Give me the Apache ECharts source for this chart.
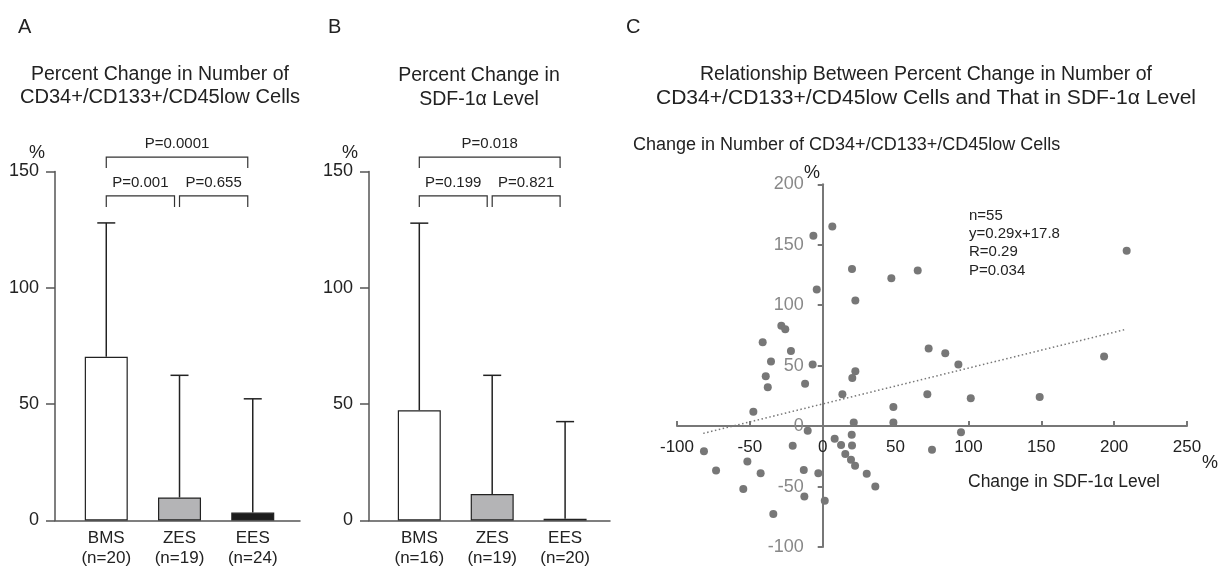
<!DOCTYPE html>
<html>
<head>
<meta charset="utf-8">
<script src="https://cdn.jsdelivr.net/npm/echarts@6/dist/echarts.min.js"></script>
<style>html,body{margin:0;padding:0;background:#fff}#c{width:1218px;height:568px}</style>
</head>
<body>
<div id="c"></div>
<script>
// ---- data ----
const categories = ['BMS', 'ZES', 'EES'];
const nLabelsA = ['(n=20)', '(n=19)', '(n=24)'];
const nLabelsB = ['(n=16)', '(n=19)', '(n=20)'];
const meanA = [70.4, 9.9, 3.4];
const sdA = [57.5, 52.5, 48.9];
const meanB = [47.4, 11.4, 0.8];
const sdB = [80.4, 51.0, 41.7];
const pairs = [[0, 1], [1, 2], [0, 2]];
const pValuesA = ['P=0.001', 'P=0.655', 'P=0.0001'];
const pValuesB = ['P=0.199', 'P=0.821', 'P=0.018'];
const barColors = ['#ffffff', '#b4b4b6', '#1c1c1c'];
const barTicks = [0, 50, 100, 150];
const scatterX = [-6.4, 6.6, 20.1, -4.1, 22.4, 47.1, 65.2, -28.4, -25.7, -41.2, -21.8, -35.5, -6.9, -39.1, -37.7, -12.1, 22.4, 20.3, 13.5, -47.6, 48.5, 21.3, 48.5, -10.3, 19.9, 8.2, -81.5, -20.6, 12.6, 20.1, 15.5, -51.7, 19.4, 22.2, -73.2, -13, -42.6, -3, 30.2, 36.1, -54.5, -12.6, 1.4, -33.9, 72.7, 84.1, 93.1, 193.1, 71.8, 101.6, 148.9, 94.9, 75, 208.6];
const scatterY = [157.5, 165, 130, 112.9, 103.8, 122.3, 128.6, 83.1, 80.2, 69.4, 62.2, 53.4, 50.9, 41.3, 32.2, 35, 45.4, 39.7, 26.4, 11.8, 15.7, 3, 3, -3.9, -7.2, -10.5, -20.7, -16.3, -15.7, -16, -23.1, -29.2, -27.9, -32.8, -36.7, -36.4, -39.1, -39.1, -39.4, -49.9, -52.1, -58.2, -61.7, -72.7, 64.1, 60.3, 50.9, 57.5, 26.4, 23.1, 24, -5, -19.6, 145.1];
const trendX = [-82, 208];
const trendY = [-6, 80];
const scatterXTicks = [-100, -50, 0, 50, 100, 150, 200, 250];
const scatterYTicks = [-100, -50, 0, 50, 100, 150, 200];
const statsText = ['n=55', 'y=0.29x+17.8', 'R=0.29', 'P=0.034'];

// ---- chart ----
const FF = '"Liberation Sans", Arial, sans-serif';
const chart = echarts.init(document.getElementById('c'));

function txt(text, x, y, size, align, color, sx) {
  return { type: 'text', x: x, y: y, scaleX: sx || 1, silent: true,
    style: { text: text, font: size + 'px ' + FF, fill: color || '#222', align: align || 'center', verticalAlign: 'middle' } };
}

function barXAxis(gi, min, max, nLabels) {
  return {
    type: 'value', gridIndex: gi, min: min, max: max,
    axisLine: { show: true, onZero: false, lineStyle: { color: '#555', width: 1.5 } },
    axisTick: { show: false },
    splitLine: { show: false },
    axisLabel: {
      show: true, customValues: [1, 2, 3], margin: 8,
      fontFamily: FF, fontSize: 17, color: '#222', lineHeight: 20,
      formatter: v => categories[Math.round(v) - 1] + '\n' + nLabels[Math.round(v) - 1]
    }
  };
}
function barYAxis(gi) {
  return {
    type: 'value', gridIndex: gi, min: barTicks[0], max: barTicks[barTicks.length - 1], interval: 50,
    axisLine: { show: true, onZero: false, lineStyle: { color: '#555', width: 1.5 } },
    axisTick: { show: true, inside: false, length: 9, lineStyle: { color: '#555', width: 1.5 } },
    splitLine: { show: false },
    axisLabel: { margin: 16, fontFamily: FF, fontSize: 18, color: '#222', showMinLabel: true, showMaxLabel: true }
  };
}
function barSeries(idx, means) {
  return {
    type: 'bar', xAxisIndex: idx, yAxisIndex: idx, barWidth: 43, z: 3,
    data: means.map((m, i) => ({ value: [i + 1, m], itemStyle: { color: barColors[i] } })),
    itemStyle: { borderColor: '#222', borderWidth: 1.2 },
    emphasis: { disabled: true }, silent: true
  };
}
function errSeries(idx, means, sds) {
  return {
    type: 'custom', xAxisIndex: idx, yAxisIndex: idx, z: 2, clip: false, silent: true,
    data: means.map((m, i) => [i + 1, m, m + sds[i]]),
    renderItem: (params, api) => {
      const a = api.coord([api.value(0), api.value(1)]);
      const b = api.coord([api.value(0), api.value(2)]);
      const st = { stroke: '#222', lineWidth: 1.5 };
      return { type: 'group', children: [
        { type: 'line', shape: { x1: a[0], y1: a[1], x2: b[0], y2: b[1] }, style: st },
        { type: 'line', shape: { x1: b[0] - 9, y1: b[1], x2: b[0] + 9, y2: b[1] }, style: st }
      ] };
    }
  };
}
function bracketSeries(idx, labels) {
  return {
    type: 'custom', xAxisIndex: idx, yAxisIndex: idx, z: 4, clip: false, silent: true,
    data: pairs.map((p, k) => [p[0] + 1, p[1] + 1, k]),
    renderItem: (params, api) => {
      const k = api.value(2);
      const outer = (api.value(1) - api.value(0)) > 1;
      const level = outer ? 156.2 : 139.5;
      const L = api.coord([api.value(0), level]);
      const R = api.coord([api.value(1), level]);
      const x1 = L[0], x2 = R[0] - 5, y = L[1];
      const st = { stroke: '#333', lineWidth: 1.2, fill: null };
      return { type: 'group', children: [
        { type: 'polyline', shape: { points: [[x1, y + 11], [x1, y], [x2, y], [x2, y + 11]] }, style: st },
        { type: 'text', x: (x1 + x2) / 2, y: y - 13,
          style: { text: labels[k], font: '15px ' + FF, fill: '#222', align: 'center', verticalAlign: 'middle' } }
      ] };
    }
  };
}

// scatter grid geometry
const gC = { left: 677, top: 184.3, width: 510, height: 362.7 };
const xMinC = scatterXTicks[0], xMaxC = scatterXTicks[scatterXTicks.length - 1];
const yMinC = scatterYTicks[0], yMaxC = scatterYTicks[scatterYTicks.length - 1];
// shift axes so they cross at zero
const xAxisOffset = -gC.height * (0 - yMinC) / (yMaxC - yMinC);
const yAxisOffset = -gC.width * (0 - xMinC) / (xMaxC - xMinC);

const option = {
  backgroundColor: '#fff',
  animation: false,
  grid: [
    { left: 55, top: 171.5, width: 245, height: 349, outerBoundsMode: 'none' },
    { left: 369, top: 171.5, width: 241, height: 349, outerBoundsMode: 'none' },
    Object.assign({ outerBoundsMode: 'none' }, gC)
  ],
  xAxis: [
    barXAxis(0, 0.3, 3.645, nLabelsA),
    barXAxis(1, 0.31, 3.616, nLabelsB),
    {
      type: 'value', gridIndex: 2, min: xMinC, max: xMaxC, interval: 50,
      position: 'bottom', offset: xAxisOffset,
      axisLine: { show: true, onZero: false, lineStyle: { color: '#777', width: 2 } },
      axisTick: { show: true, inside: true, length: 5, lineStyle: { color: '#777', width: 2 } },
      splitLine: { show: false },
      axisLabel: { margin: 13, fontFamily: FF, fontSize: 17, color: '#222', showMinLabel: true, showMaxLabel: true }
    }
  ],
  yAxis: [
    barYAxis(0),
    barYAxis(1),
    {
      type: 'value', gridIndex: 2, min: yMinC, max: yMaxC, interval: 50,
      position: 'left', offset: yAxisOffset,
      axisLine: { show: true, onZero: false, lineStyle: { color: '#777', width: 2 } },
      axisTick: { show: true, inside: false, length: 5, lineStyle: { color: '#777', width: 2 } },
      splitLine: { show: false },
      axisLabel: { margin: 19, fontFamily: FF, fontSize: 18, color: '#888', showMinLabel: true, showMaxLabel: true }
    }
  ],
  series: [
    errSeries(0, meanA, sdA),
    barSeries(0, meanA),
    bracketSeries(0, pValuesA),
    errSeries(1, meanB, sdB),
    barSeries(1, meanB),
    bracketSeries(1, pValuesB),
    {
      type: 'line', xAxisIndex: 2, yAxisIndex: 2, symbol: 'none', silent: true, z: 2,
      data: trendX.map((x, i) => [x, trendY[i]]),
      lineStyle: { color: '#777', width: 1.5, type: [1.5, 2.5] }
    },
    {
      type: 'scatter', xAxisIndex: 2, yAxisIndex: 2, symbol: 'circle', symbolSize: 8, silent: true, z: 3,
      data: scatterX.map((x, i) => [x, scatterY[i]]),
      itemStyle: { color: '#777', opacity: 1 }
    }
  ],
  graphic: [
    txt('A', 18, 27, 20, 'left'),
    txt('B', 328, 27, 20, 'left'),
    txt('C', 626, 27, 20, 'left'),
    txt('Percent Change in Number of', 160, 75, 19.5),
    txt('CD34+/CD133+/CD45low Cells', 160, 98, 19.5, 'center', '#222', 1.03),
    txt('Percent Change in', 479, 76, 19.5),
    txt('SDF-1\u03b1 Level', 479, 100, 19.5),
    txt('Relationship Between Percent Change in Number of', 926, 75, 19.5),
    txt('CD34+/CD133+/CD45low Cells and That in SDF-1\u03b1 Level', 926, 99, 19.5, 'center', '#222', 1.08),
    txt('%', 37, 153, 18),
    txt('%', 350, 153, 18),
    txt('Change in Number of CD34+/CD133+/CD45low Cells', 633, 145, 18, 'left'),
    txt('%', 812, 173, 18),
    txt('%', 1210, 463, 18),
    txt('Change in SDF-1\u03b1 Level', 1064, 482, 17.5),
    txt(statsText[0], 969, 216, 15, 'left'),
    txt(statsText[1], 969, 234, 15, 'left'),
    txt(statsText[2], 969, 252, 15, 'left'),
    txt(statsText[3], 969, 271, 15, 'left')
  ]
};
chart.setOption(option);
</script>
</body>
</html>
